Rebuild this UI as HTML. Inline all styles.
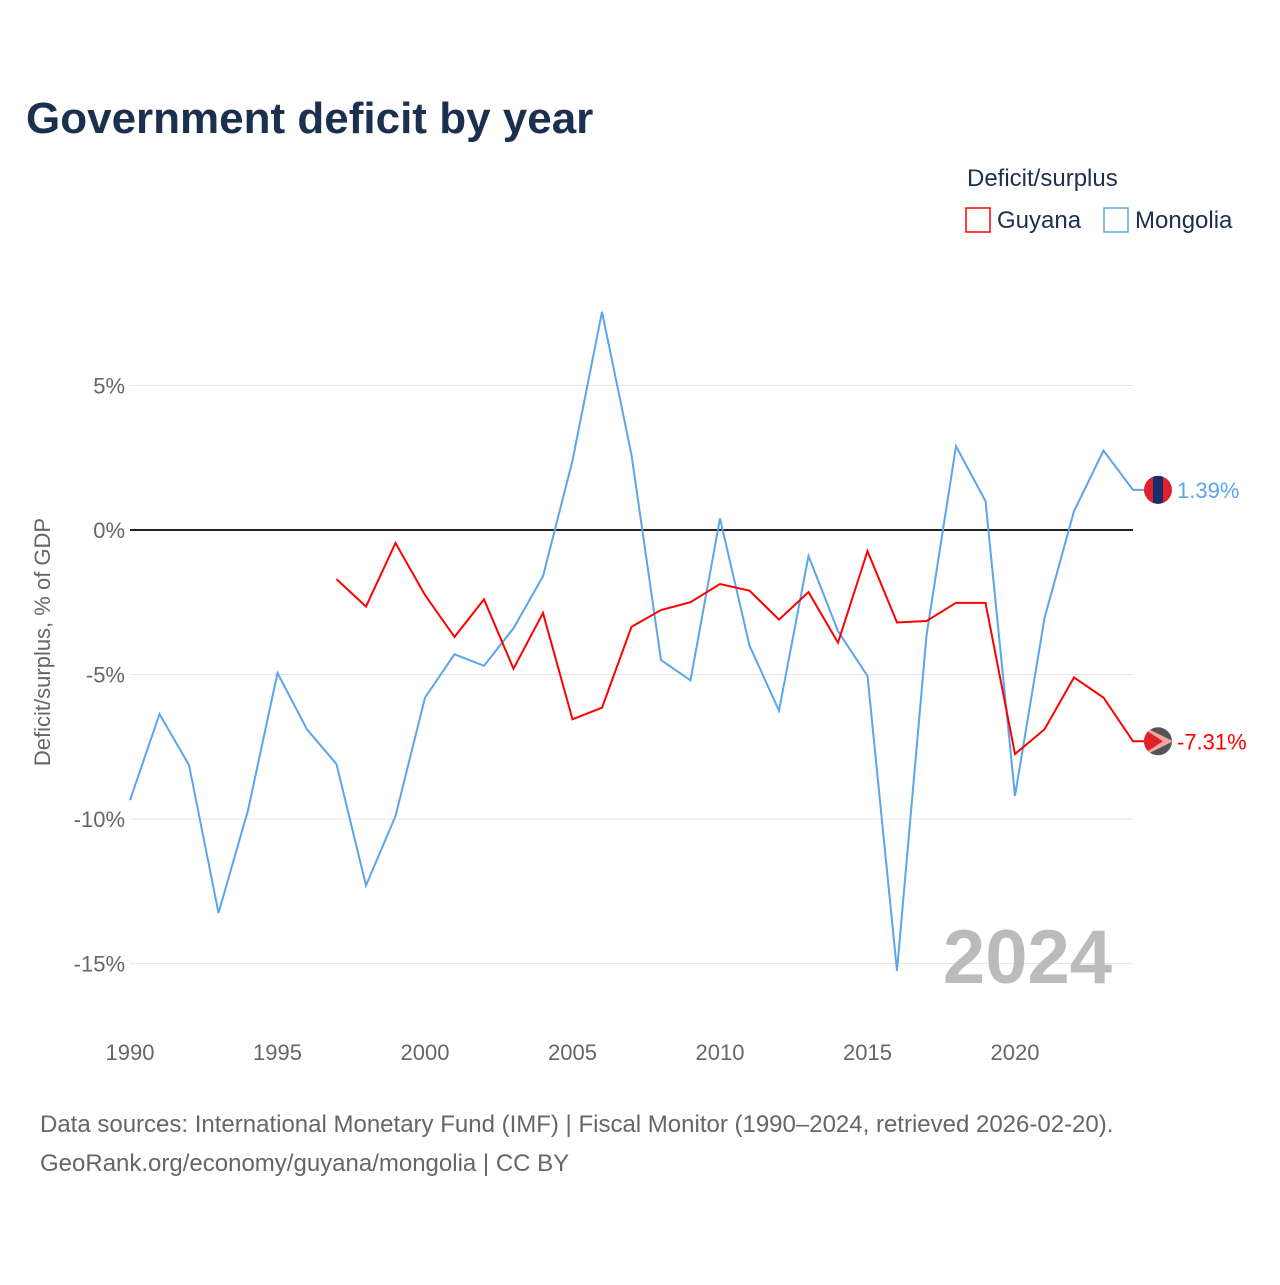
<!DOCTYPE html>
<html><head><meta charset="utf-8"><style>
body{margin:0;background:#fff;font-family:"Liberation Sans",sans-serif}
svg text{font-family:"Liberation Sans",sans-serif}
</style></head><body>
<svg width="1280" height="1280">
<text x="26" y="133" font-size="44" font-weight="bold" fill="#1b2f4f">Government deficit by year</text>
<text x="967" y="186" font-size="24" fill="#1b2f4f">Deficit/surplus</text>
<g><rect x="966" y="208" width="24" height="24" fill="none" stroke="#f00" stroke-width="1.5"/><text x="997" y="228" font-size="24" fill="#1b2f4f">Guyana</text></g>
<g><rect x="1104" y="208" width="24" height="24" fill="none" stroke="#5aa5ec" stroke-width="1.5"/><text x="1135" y="228" font-size="24" fill="#1b2f4f">Mongolia</text></g>
<text transform="translate(50,642) rotate(-90)" text-anchor="middle" font-size="22" fill="#666">Deficit/surplus, % of GDP</text>
<defs>
<clipPath id="cm"><circle cx="0" cy="0" r="14"/></clipPath>
</defs>
<g id="grid"></g>
<text x="1112" y="983" text-anchor="end" font-size="76" font-weight="bold" fill="#bbb">2024</text>
<g id="series"></g>
<text x="40" y="1132" font-size="24" fill="#666">Data sources: International Monetary Fund (IMF) | Fiscal Monitor (1990–2024, retrieved 2026-02-20).</text>
<text x="40" y="1171" font-size="24" fill="#666">GeoRank.org/economy/guyana/mongolia | CC BY</text>
</svg>
<script>
const years=[];for(let y=1990;y<=2024;y++)years.push(y);
const mongolia=[-9.35,-6.37,-8.13,-13.25,-9.7,-4.95,-6.9,-8.1,-12.3,-9.9,-5.8,-4.3,-4.7,-3.4,-1.6,2.4,7.55,2.6,-4.5,-5.2,0.4,-4.0,-6.25,-0.9,-3.5,-5.05,-15.25,-3.65,2.9,1.0,-9.2,-3.05,0.65,2.75,1.39];
const guyana=[null,null,null,null,null,null,null,-1.7,-2.65,-0.45,-2.25,-3.7,-2.4,-4.8,-2.87,-6.55,-6.15,-3.35,-2.77,-2.5,-1.87,-2.1,-3.1,-2.15,-3.9,-0.73,-3.2,-3.15,-2.52,-2.52,-7.75,-6.9,-5.1,-5.8,-7.31];
const yTicks=[5,0,-5,-10,-15];
const xTicks=[1990,1995,2000,2005,2010,2015,2020];
const NS='http://www.w3.org/2000/svg';
const X=y=>130+(y-1990)*29.5, Y=v=>530-v*28.9;
const grid=document.getElementById('grid'),ser=document.getElementById('series');
function mk(tag,a,p){const e=document.createElementNS(NS,tag);for(const k in a)e.setAttribute(k,a[k]);p.appendChild(e);return e;}
yTicks.forEach(t=>{
 const l=mk('line',{x1:130,x2:1133,y1:Y(t),y2:Y(t),stroke:t===0?'#222':'#e6e6e6','stroke-width':t===0?2:1},grid);
 
 
 const tx=mk('text',{x:125,y:Y(t)+8,'text-anchor':'end','font-size':22,fill:'#666'},grid);tx.textContent=t+'%';
 
 
});
xTicks.forEach(t=>{
 const tx=mk('text',{x:X(t),y:1060,'text-anchor':'middle','font-size':22,fill:'#666'},grid);tx.textContent=t;
 
 
});
function line(vals,color,name,flag){
 let d='';vals.forEach((v,i)=>{if(v===null)return;d+=(d?'L':'M')+X(years[i])+','+Y(v);});
 const last=vals[vals.length-1];
 d+='L1145,'+Y(last);
 const p=mk('path',{d:d,fill:'none',stroke:color,'stroke-width':2},ser);
 
 
 const g=mk('g',{transform:'translate(1158,'+Y(last)+')','clip-path':'url(#cm)'},ser);
 
 
 if(flag==='mn'){
  mk('rect',{x:-15,y:-15,width:30,height:30,fill:'#e0202a'},g);
  mk('rect',{x:-5,y:-15,width:10,height:30,fill:'#1a2d6b'},g);
 }else{
  mk('rect',{x:-15,y:-15,width:30,height:30,fill:'#555'},g);
  mk('path',{d:'M-15,-15L15,0L-15,15Z',fill:'#f4a6a6'},g);
  mk('path',{d:'M-15,-13L5,0L-15,13Z',fill:'#e0202a'},g);
 }
 const t=mk('text',{x:1177,y:Y(last)+8,'font-size':22,fill:color},ser);t.textContent=last.toFixed(2)+'%';
 
 
}
line(mongolia,'#5aa5ec','mongolia-line','mn');
line(guyana,'#f00','guyana-line','gy');
</script>
</body></html>
